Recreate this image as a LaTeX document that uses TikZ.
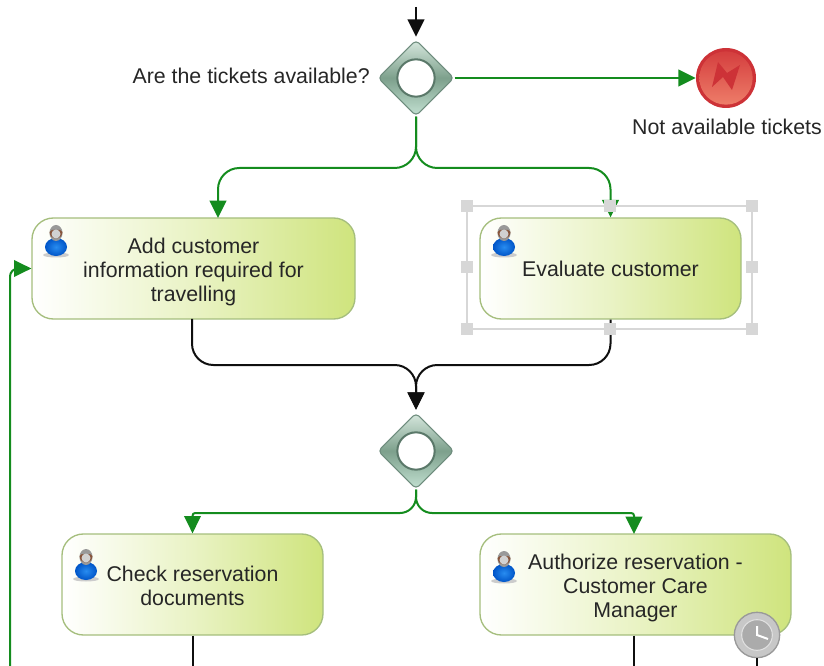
\documentclass[tikz,border=0pt]{standalone}
\usepackage{fontspec}
\setmainfont{Liberation Sans}
\usetikzlibrary{shapes.geometric,arrows.meta}

\definecolor{flowgreen}{RGB}{20,140,30}
\definecolor{flowblack}{RGB}{15,15,15}
\definecolor{taskend}{RGB}{207,228,125}
\definecolor{taskline}{RGB}{165,190,125}
\definecolor{gwlight}{RGB}{215,232,222}
\definecolor{gwdark}{RGB}{125,160,140}
\definecolor{gwlow}{RGB}{195,225,210}
\definecolor{gwline}{RGB}{110,140,125}
\definecolor{gwring}{RGB}{90,120,105}
\definecolor{evred}{RGB}{205,50,55}
\definecolor{evtop}{RGB}{212,62,62}
\definecolor{evlow}{RGB}{238,125,105}
\definecolor{selgrey}{RGB}{215,215,215}
\definecolor{bodyin}{RGB}{40,140,240}
\definecolor{bodyout}{RGB}{0,85,200}
\definecolor{hair}{RGB}{135,85,60}

\tikzset{
    task/.style={draw=taskline, line width=1pt, rounded corners=16pt, left color=white, right color=taskend,
        middle color=white!55!taskend, align=center, font=\fontsize{16pt}{18pt}\selectfont,
        text=black!85, inner sep=0pt, minimum height=75.75pt},
    gateway/.style={diamond, aspect=1, draw=gwline, line width=0.8pt, rounded corners=3pt, inner sep=0pt,
        minimum size=57pt, top color=gwlight, bottom color=gwlow, middle color=gwdark},
    gatering/.style={circle, fill=white, draw=gwring, line width=1.5pt, inner sep=0pt, minimum size=28pt},
    label/.style={font=\fontsize{16pt}{18pt}\selectfont, text=black!85, inner sep=0pt},
    greenflow/.style={draw=flowgreen, line width=1.5pt, -{Triangle[width=12.5pt,length=13pt]}},
    blackflow/.style={draw=flowblack, line width=1.5pt, -{Triangle[width=12.5pt,length=13pt]}},
    blackline/.style={draw=flowblack, line width=1.5pt},
    handle/.style={rectangle, fill=selgrey, inner sep=0pt, minimum size=9.5pt},
    person/.pic={
        \fill[black!20] (0,22) ellipse (13 and 2.5);
        \shade[inner color=bodyin, outer color=bodyout] (0,14) ellipse (11 and 9);
        \fill[black!40] (0,0) ellipse (6.5 and 8);
        \fill[hair] (-6.5,-1) arc (180:0:6.5 and 6.5) -- (4,-3) -- (-4,-3) -- cycle;
        \fill[black!18] (0,1) circle (4.5);
    }
}

\begin{document}
\begin{tikzpicture}[x=0.75pt, y=-0.75pt]
    \useasboundingbox (0,0) rectangle (824,666);

    % Gateways
    \node[gateway] (gw1) at (416,78) {};
    \node[gatering] (gw1ring) at (gw1) {};
    \node[gateway] (gw2) at (416,451) {};
    \node[gatering] (gw2ring) at (gw2) {};
    \node[label, anchor=east] (gw1label) at (370,76) {Are the tickets available?};

    % Error event
    \node[circle, fill=evred, inner sep=0pt, minimum size=45pt] (ev) at (726,78) {};
    \node[circle, top color=evtop, bottom color=evlow, inner sep=0pt, minimum size=40pt] (evface) at (ev) {};
    \fill[evred] (718,62) -- (727,73) -- (740,65) -- (732,90) -- (723,77) -- (712,87) -- cycle;
    \node[label] (evlabel) at (727,127) {Not available tickets};

    % Tasks
    \node[task, minimum width=242.25pt] (task1) at (193.5,268.5) {\rule{0pt}{17.5pt}Add customer\\information required for\\travelling};
    \node[task, minimum width=195.75pt] (task2) at (610.5,268.5) {Evaluate customer};
    \node[task, minimum width=195.75pt] (task3) at (192.5,584.5) {\rule{0pt}{14pt}Check reservation\\documents};
    \node[task, minimum width=233.25pt] (task4) at (635.5,584.5) {\rule{0pt}{16.5pt}Authorize reservation -\\Customer Care\\Manager};

    % Task owners
    \pic at (56,233) {person};
    \pic at (504,233) {person};
    \pic at (86,557) {person};
    \pic at (504,559) {person};

    % Free ends and bends
    \coordinate (start) at (416,7);
    \coordinate (split1l) at (300,168);
    \coordinate (split1r) at (520,168);
    \coordinate (in1) at (218,218);
    \coordinate (out1) at (192,319);
    \coordinate (mergel) at (300,365);
    \coordinate (merger) at (520,365);
    \coordinate (split2l) at (300,513);
    \coordinate (split2r) at (530,513);
    \coordinate (in4) at (634,534);
    \coordinate (loop) at (10,666);
    \coordinate (out3) at (192.5,666);
    \coordinate (out4) at (634,666);
    \coordinate (out5) at (757,666);

    % Flows
    \draw[blackflow, shorten >=2pt] (start) -- (gw1.north);
    \draw[greenflow] (gw1.east) -- (ev.west);
    \draw[greenflow, rounded corners=16pt] (gw1.south) |- (split1l) -| (in1);
    \draw[greenflow, rounded corners=16pt] (gw1.south) |- (split1r) -| (task2.north);
    \draw[blackflow, rounded corners=16pt, shorten >=2pt] (out1) |- (mergel) -| (gw2.north);
    \draw[blackflow, rounded corners=16pt, shorten >=2pt] (task2.south) |- (merger) -| (gw2.north);
    \draw[greenflow, rounded corners=12pt] (gw2.south) |- (split2l) [rounded corners=2pt] -| (task3.north);
    \draw[greenflow, rounded corners=12pt] (gw2.south) |- (split2r) [rounded corners=2pt] -| (in4);
    \draw[greenflow, rounded corners=6pt] (loop) |- (task1.west);
    \draw[blackline] (task3.south) -- (out3);
    \draw[blackline] (task4.south -| out4) -- (out4);

    % Timer
    \node[circle, fill=black!22, draw=black!40, line width=1pt, inner sep=0pt, minimum size=34pt] (clock) at (757,635) {};
    \node[circle, fill=black!33, draw=black!12, line width=0.8pt, inner sep=0pt, minimum size=23pt] (clockface) at (clock) {};
    \draw[white, line width=1.5pt] (757,626) -- (757,635) -- (768,639);
    \draw[blackline] (clock.south) -- (out5);

    % Selection
    \coordinate (sel1) at (467,206);
    \coordinate (sel2) at (752,329);
    \draw[selgrey, line width=1.5pt] (sel1) rectangle (sel2);
    \node[handle] (h1) at (467,206) {};
    \node[handle] (h2) at (610,206) {};
    \node[handle] (h3) at (752,206) {};
    \node[handle] (h4) at (467,267) {};
    \node[handle] (h5) at (752,267) {};
    \node[handle] (h6) at (467,329) {};
    \node[handle] (h7) at (610,329) {};
    \node[handle] (h8) at (752,329) {};
\end{tikzpicture}
\end{document}
